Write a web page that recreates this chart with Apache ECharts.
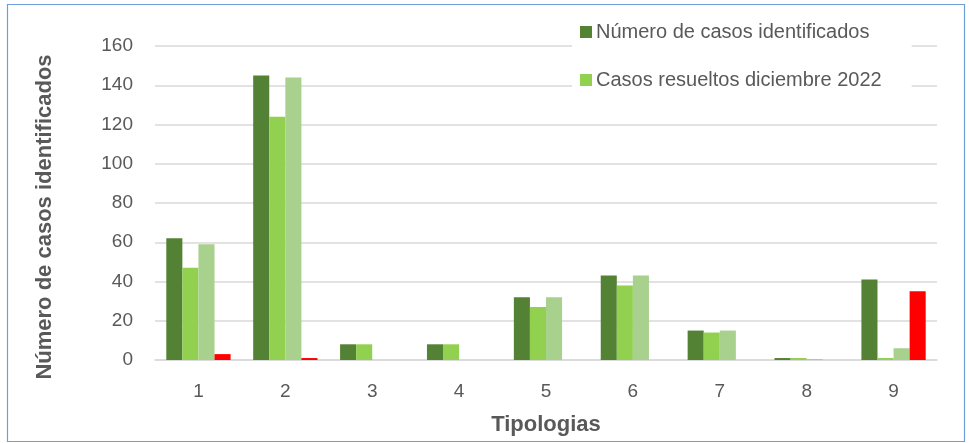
<!DOCTYPE html>
<html>
<head>
<meta charset="utf-8">
<script src="https://cdn.jsdelivr.net/npm/echarts@6/dist/echarts.min.js"></script>
<style>
html,body{margin:0;padding:0;background:#fff;}
#main{width:969px;height:443px;}
</style>
</head>
<body>
<div id="main"></div>
<script>
// datos del gráfico
var categorias = ['1', '2', '3', '4', '5', '6', '7', '8', '9'];
var casosIdentificados = [62, 145, 8, 8, 32, 43, 15, 1, 41];
var casosResueltos = [47, 124, 8, 8, 27, 38, 14, 1, 1];
var serie3 = [59, 144, 0, 0, 32, 43, 15, 0.5, 6];
var serie4 = [3, 1, 0, 0, 0, 0, 0, 0, 35];
var ticksY = [0, 20, 40, 60, 80, 100, 120, 140, 160];

var myChart = echarts.init(document.getElementById('main'));
myChart.setOption({
    animation: false,
    textStyle: { fontFamily: 'Liberation Sans, Arial, sans-serif' },
    graphic: [{
        type: 'rect',
        shape: { x: 7.5, y: 4.5, width: 957, height: 437 },
        style: { fill: 'none', stroke: '#6F9FD8', lineWidth: 1.2 },
        z: 0
    }],
    legend: {
        data: ['Número de casos identificados', 'Casos resueltos diciembre 2022'],
        orient: 'vertical',
        left: 572,
        top: 16,
        padding: [6, 30, 6, 8],
        backgroundColor: '#fff',
        itemWidth: 12,
        itemHeight: 12,
        itemGap: 28,
        icon: 'rect',
        textStyle: { fontSize: 20, color: '#595959', padding: [0, 0, 0, -1] }
    },
    grid: { left: 155, right: 32, top: 46, bottom: 83 },
    xAxis: {
        type: 'category',
        data: categorias,
        name: 'Tipologias',
        nameLocation: 'middle',
        nameGap: 54,
        nameTextStyle: { fontSize: 22, fontWeight: 'bold', color: '#595959' },
        axisTick: { show: false },
        axisLine: { lineStyle: { color: '#D9D9D9', width: 1.5 } },
        axisLabel: { fontSize: 19, color: '#595959', margin: 22 }
    },
    yAxis: {
        type: 'value',
        min: ticksY[0],
        max: ticksY[ticksY.length - 1],
        interval: 20,
        name: 'Número de casos identificados',
        nameLocation: 'middle',
        nameGap: 99,
        nameTextStyle: { fontSize: 22, fontWeight: 'bold', color: '#595959', padding: [0, 28, 0, 0] },
        axisLabel: { fontSize: 19, color: '#595959', margin: 22 },
        splitLine: { lineStyle: { color: '#D9D9D9', width: 1.5 } }
    },
    series: [
        { name: 'Número de casos identificados', type: 'bar', data: casosIdentificados, barGap: '0%', barCategoryGap: '26%', itemStyle: { color: '#548235' } },
        { name: 'Casos resueltos diciembre 2022', type: 'bar', data: casosResueltos, itemStyle: { color: '#92D050' } },
        { name: 'Serie 3', type: 'bar', data: serie3, itemStyle: { color: '#A9D18E' } },
        { name: 'Serie 4', type: 'bar', data: serie4, itemStyle: { color: '#FF0000' } }
    ]
});
</script>
</body>
</html>
